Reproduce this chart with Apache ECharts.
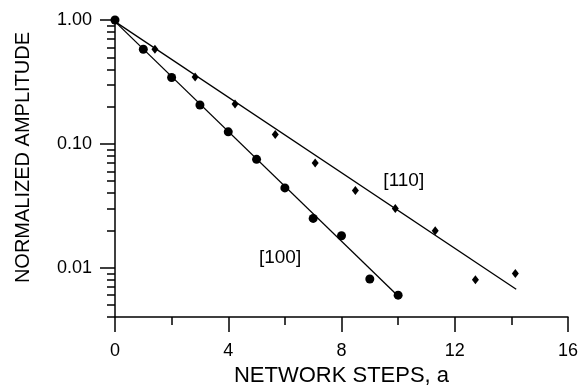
<!DOCTYPE html>
<html>
<head>
<meta charset="utf-8">
<script src="https://cdn.jsdelivr.net/npm/echarts@6/dist/echarts.min.js"></script>
<style>
html,body{margin:0;padding:0;background:#fff;}
#chart{width:581px;height:386px;}
</style>
</head>
<body>
<div id="chart"></div>
<script>
// ---- data ----
var x100 = [0, 1, 2, 3, 4, 5, 6, 7, 8, 9, 10];
var y100 = [1.0, 0.581, 0.343, 0.206, 0.125, 0.075, 0.0441, 0.025, 0.0181, 0.0081, 0.0060];
var x110 = [1.41, 2.83, 4.24, 5.66, 7.07, 8.49, 9.90, 11.31, 12.73, 14.14];
var y110 = [0.581, 0.346, 0.2095, 0.119, 0.070, 0.042, 0.030, 0.0199, 0.0080, 0.0090];
var fit100X = [0, 10.07];
var fit100Y = [0.97, 0.0057];
var fit110X = [0, 14.17];
var fit110Y = [0.97, 0.0067];
var annotText = ['[110]', '[100]'];
var annotX = [10.2, 5.83];
var annotY = [0.0506, 0.0121];
var yMajorTicks = [0.01, 0.1, 1];
var yMinorTicks = [0.004, 0.005, 0.006, 0.007, 0.008, 0.009,
                   0.02, 0.03, 0.04, 0.05, 0.06, 0.07, 0.08, 0.09,
                   0.2, 0.3, 0.4, 0.5, 0.6, 0.7, 0.8, 0.9];
var yMin = 0.004, yMax = 1;
var xMin = 0, xMax = 16, xInterval = 4;

function zip(a, b) { return a.map(function (v, i) { return [v, b[i]]; }); }
var FONT = '"Liberation Sans", Arial, Helvetica, sans-serif';
var BLACK = '#000';

var chart = echarts.init(document.getElementById('chart'), null, {renderer: 'canvas'});
var lg = Math.log10;
var option = {
  backgroundColor: '#fff',
  animation: false,
  textStyle: {fontFamily: FONT, color: BLACK},
  grid: {left: 115, right: 13, top: 20, bottom: 69, containLabel: false, outerBoundsMode: 'none'},
  xAxis: {
    type: 'value', min: xMin, max: xMax, interval: xInterval, position: 'bottom',
    name: 'NETWORK STEPS, a', nameLocation: 'middle', nameGap: 42,
    nameTextStyle: {fontFamily: FONT, fontSize: 22, color: BLACK},
    axisLine: {show: true, onZero: false, lineStyle: {color: BLACK, width: 1.5}},
    axisTick: {show: true, inside: false, length: 15, lineStyle: {color: BLACK, width: 1.5}},
    minorTick: {show: true, splitNumber: 2, length: 8, lineStyle: {color: BLACK, width: 1.5}},
    axisLabel: {margin: 25, fontFamily: FONT, fontSize: 18, color: BLACK},
    splitLine: {show: false}, minorSplitLine: {show: false}
  },
  yAxis: [
    {
      type: 'log', logBase: 10, min: yMin, max: yMax,
      axisLine: {show: true, onZero: false, lineStyle: {color: BLACK, width: 1.5}},
      axisTick: {show: false}, axisLabel: {show: false}, splitLine: {show: false},
      name: 'NORMALIZED AMPLITUDE', nameLocation: 'middle', nameGap: 82, nameRotate: 90,
      nameTextStyle: {fontFamily: FONT, fontSize: 20, color: BLACK, padding: [0, 0, 0, 22]}
    },
    {
      type: 'value', min: lg(yMin), max: lg(yMax), position: 'left',
      axisLine: {show: false, onZero: false},
      axisTick: {show: true, length: 15, customValues: yMajorTicks.map(lg), lineStyle: {color: BLACK, width: 1.5}},
      axisLabel: {show: true, margin: 23, fontFamily: FONT, fontSize: 18, color: BLACK,
        customValues: yMajorTicks.map(lg),
        formatter: function (v) { return Math.pow(10, v).toFixed(2); }},
      splitLine: {show: false}
    },
    {
      type: 'value', min: lg(yMin), max: lg(yMax), position: 'left',
      axisLine: {show: false, onZero: false},
      axisTick: {show: true, length: 8, customValues: yMinorTicks.map(lg), lineStyle: {color: BLACK, width: 1.5}},
      axisLabel: {show: false},
      splitLine: {show: false}
    }
  ],
  series: [
    {type: 'line', data: zip(fit100X, fit100Y), yAxisIndex: 0, showSymbol: false, symbol: 'none',
     lineStyle: {color: BLACK, width: 1.3}, z: 2},
    {type: 'line', data: zip(fit110X, fit110Y), yAxisIndex: 0, showSymbol: false, symbol: 'none',
     lineStyle: {color: BLACK, width: 1.3}, z: 2},
    {type: 'scatter', data: zip(x100, y100), yAxisIndex: 0, symbol: 'circle', symbolSize: 9,
     itemStyle: {color: BLACK, opacity: 1}, z: 3},
    {type: 'scatter', data: zip(x110, y110), yAxisIndex: 0, symbol: 'diamond', symbolSize: [7, 9],
     itemStyle: {color: BLACK, opacity: 1}, z: 3},
    {type: 'scatter', yAxisIndex: 0, symbolSize: 0, silent: true,
     itemStyle: {opacity: 1},
     data: annotText.map(function (t, i) { return {value: [annotX[i], annotY[i]], name: t}; }),
     label: {show: true, position: 'inside', formatter: '{b}', fontFamily: FONT, fontSize: 19, color: BLACK, opacity: 1}}
  ]
};
chart.setOption(option);
</script>
</body>
</html>
